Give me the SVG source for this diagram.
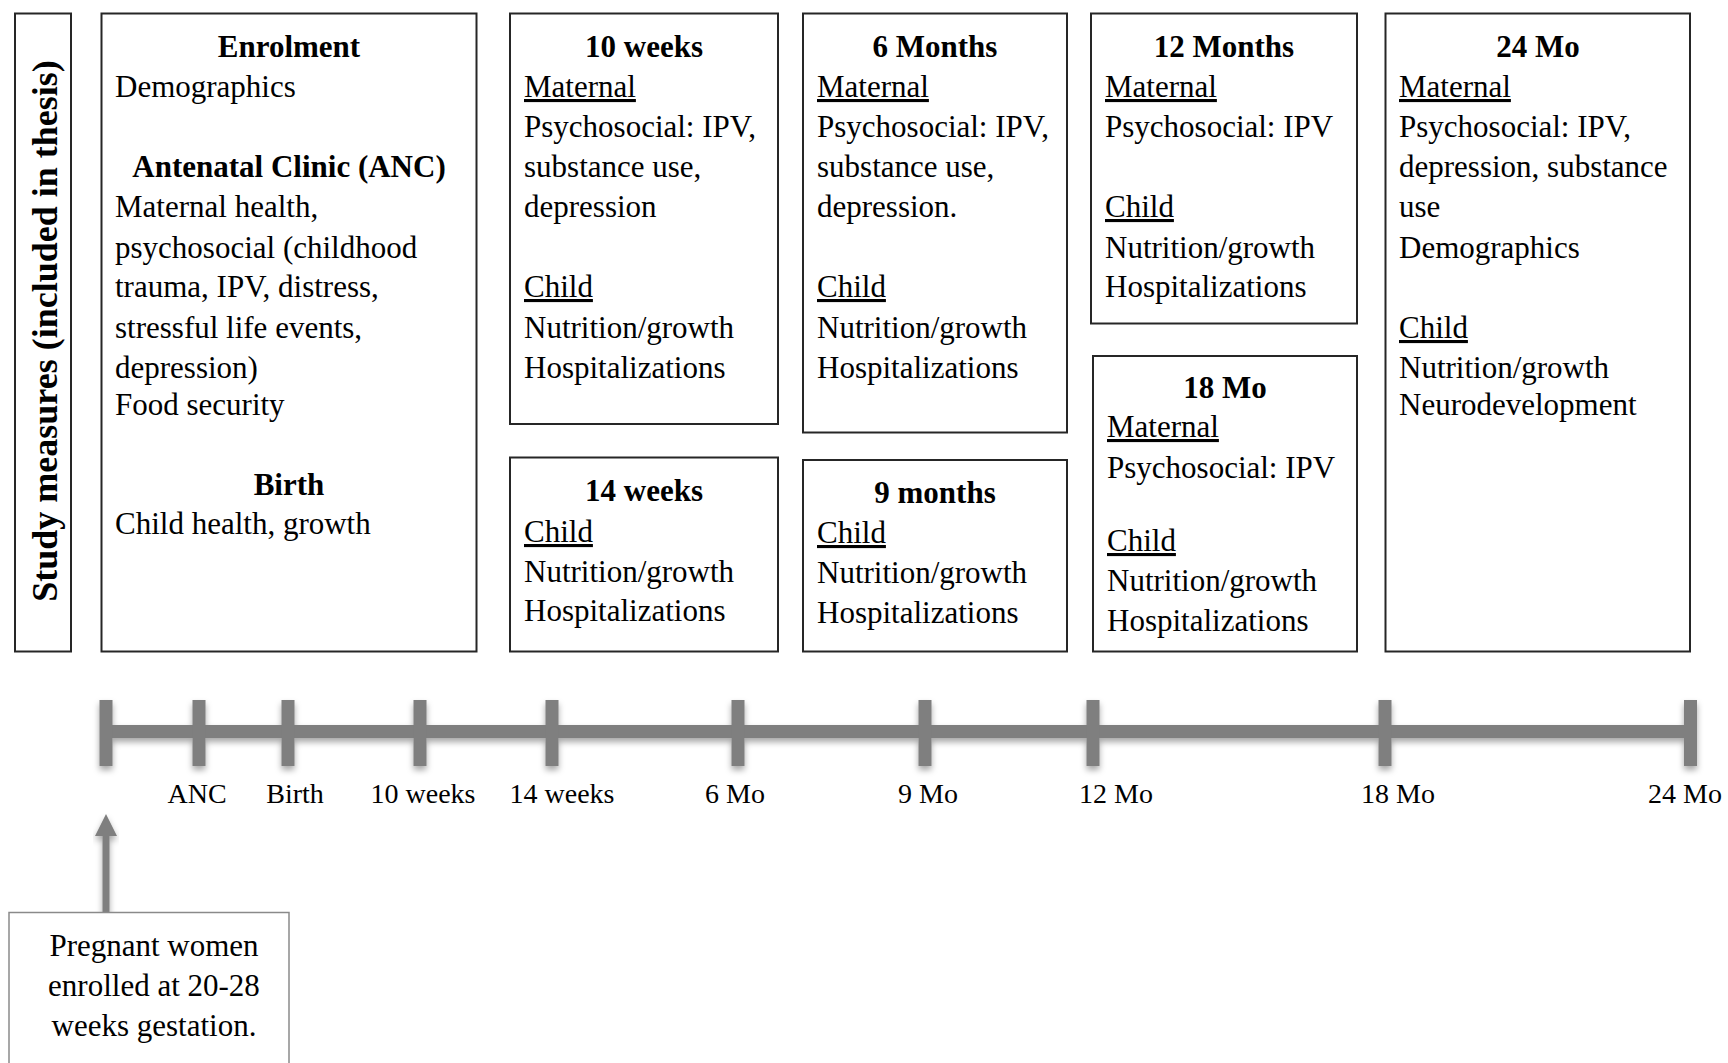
<svg xmlns="http://www.w3.org/2000/svg" width="1728" height="1063" viewBox="0 0 1728 1063">
  <style>
    .box{fill:#fff;stroke:#262626;stroke-width:2}
    .t{font-family:"Liberation Serif","Times New Roman",serif;font-size:31px;fill:#000}
    .h{font-weight:bold;text-anchor:middle}
    .u{text-decoration:underline;text-decoration-thickness:2.5px;text-underline-offset:3px}
    .tl{font-family:"Liberation Serif","Times New Roman",serif;font-size:28px;fill:#000;text-anchor:middle}
    .axis{fill:#7f7f7f}
  </style>
  <defs>
    <filter id="soft" x="-5%" y="-50%" width="110%" height="200%">
      <feDropShadow dx="0" dy="4" stdDeviation="3" flood-color="#000" flood-opacity="0.35"/>
    </filter>
  </defs>
  <rect width="1728" height="1063" fill="#fff"/>

  <!-- vertical side label -->
  <g id="side-label">
    <rect class="box" x="15" y="13.5" width="56" height="638"/>
    <text class="t" font-weight="bold" text-anchor="middle" transform="translate(57,331) rotate(-90)" style="font-size:36px">Study measures (included in thesis)</text>
  </g>

  <g id="enrolment">
    <rect class="box" x="101.5" y="13.5" width="375" height="638"/>
    <text class="t h" x="289" y="57">Enrolment</text>
    <text class="t" x="115" y="97">Demographics</text>
    <text class="t h" x="289" y="177">Antenatal Clinic (ANC)</text>
    <text class="t" x="115" y="217">Maternal health,</text>
    <text class="t" x="115" y="258">psychosocial (childhood</text>
    <text class="t" x="115" y="297">trauma, IPV, distress,</text>
    <text class="t" x="115" y="338">stressful life events,</text>
    <text class="t" x="115" y="378">depression)</text>
    <text class="t" x="115" y="415">Food security</text>
    <text class="t h" x="289" y="495">Birth</text>
    <text class="t" x="115" y="534">Child health, growth</text>
  </g>

  <g id="weeks10">
    <rect class="box" x="510" y="13.5" width="268" height="410.5"/>
    <text class="t h" x="644" y="57">10 weeks</text>
    <text class="t u" x="524" y="97">Maternal</text>
    <text class="t" x="524" y="137">Psychosocial: IPV,</text>
    <text class="t" x="524" y="177">substance use,</text>
    <text class="t" x="524" y="217">depression</text>
    <text class="t u" x="524" y="297">Child</text>
    <text class="t" x="524" y="338">Nutrition/growth</text>
    <text class="t" x="524" y="378">Hospitalizations</text>
  </g>

  <g id="weeks14">
    <rect class="box" x="510" y="457.5" width="268" height="194"/>
    <text class="t h" x="644" y="501">14 weeks</text>
    <text class="t u" x="524" y="542">Child</text>
    <text class="t" x="524" y="582">Nutrition/growth</text>
    <text class="t" x="524" y="621">Hospitalizations</text>
  </g>

  <g id="months6">
    <rect class="box" x="803" y="13.5" width="264" height="419"/>
    <text class="t h" x="935" y="57">6 Months</text>
    <text class="t u" x="817" y="97">Maternal</text>
    <text class="t" x="817" y="137">Psychosocial: IPV,</text>
    <text class="t" x="817" y="177">substance use,</text>
    <text class="t" x="817" y="217">depression.</text>
    <text class="t u" x="817" y="297">Child</text>
    <text class="t" x="817" y="338">Nutrition/growth</text>
    <text class="t" x="817" y="378">Hospitalizations</text>
  </g>

  <g id="months9">
    <rect class="box" x="803" y="460" width="264" height="191.5"/>
    <text class="t h" x="935" y="503">9 months</text>
    <text class="t u" x="817" y="543">Child</text>
    <text class="t" x="817" y="583">Nutrition/growth</text>
    <text class="t" x="817" y="623">Hospitalizations</text>
  </g>

  <g id="months12">
    <rect class="box" x="1091" y="13.5" width="266" height="310"/>
    <text class="t h" x="1224" y="57">12 Months</text>
    <text class="t u" x="1105" y="97">Maternal</text>
    <text class="t" x="1105" y="137">Psychosocial: IPV</text>
    <text class="t u" x="1105" y="217">Child</text>
    <text class="t" x="1105" y="258">Nutrition/growth</text>
    <text class="t" x="1105" y="297">Hospitalizations</text>
  </g>

  <g id="months18">
    <rect class="box" x="1093" y="356" width="264" height="295.5"/>
    <text class="t h" x="1225" y="398">18 Mo</text>
    <text class="t u" x="1107" y="437">Maternal</text>
    <text class="t" x="1107" y="478">Psychosocial: IPV</text>
    <text class="t u" x="1107" y="551">Child</text>
    <text class="t" x="1107" y="591">Nutrition/growth</text>
    <text class="t" x="1107" y="631">Hospitalizations</text>
  </g>

  <g id="months24">
    <rect class="box" x="1385.5" y="13.5" width="304.5" height="638"/>
    <text class="t h" x="1538" y="57">24 Mo</text>
    <text class="t u" x="1399" y="97">Maternal</text>
    <text class="t" x="1399" y="137">Psychosocial: IPV,</text>
    <text class="t" x="1399" y="177">depression, substance</text>
    <text class="t" x="1399" y="217">use</text>
    <text class="t" x="1399" y="258">Demographics</text>
    <text class="t u" x="1399" y="338">Child</text>
    <text class="t" x="1399" y="378">Nutrition/growth</text>
    <text class="t" x="1399" y="415">Neurodevelopment</text>
  </g>

  <!-- timeline axis with tick marks -->
  <g id="timeline" filter="url(#soft)">
    <rect class="axis" x="106" y="725" width="1584" height="13"/>
    <rect class="axis" x="99.5" y="700" width="13" height="66"/>
    <rect class="axis" x="192.5" y="700" width="13" height="66"/>
    <rect class="axis" x="281.5" y="700" width="13" height="66"/>
    <rect class="axis" x="413.5" y="700" width="13" height="66"/>
    <rect class="axis" x="545.5" y="700" width="13" height="66"/>
    <rect class="axis" x="731.5" y="700" width="13" height="66"/>
    <rect class="axis" x="918.5" y="700" width="13" height="66"/>
    <rect class="axis" x="1086.5" y="700" width="13" height="66"/>
    <rect class="axis" x="1378.5" y="700" width="13" height="66"/>
    <rect class="axis" x="1684" y="700" width="13" height="66"/>
  </g>

  <g id="timeline-labels">
    <text class="tl" x="197" y="803">ANC</text>
    <text class="tl" x="295" y="803">Birth</text>
    <text class="tl" x="423" y="803">10 weeks</text>
    <text class="tl" x="562" y="803">14 weeks</text>
    <text class="tl" x="735" y="803">6 Mo</text>
    <text class="tl" x="928" y="803">9 Mo</text>
    <text class="tl" x="1116" y="803">12 Mo</text>
    <text class="tl" x="1398" y="803">18 Mo</text>
    <text class="tl" x="1685" y="803">24 Mo</text>
  </g>

  <!-- enrolment arrow pointing up to the start of the axis -->
  <g id="connectors" filter="url(#soft)">
    <rect class="axis" x="102.5" y="834" width="7" height="79"/>
    <polygon class="axis" points="95,836 117,836 106,814"/>
  </g>

  <g id="enrolled-note">
    <rect x="9" y="912.5" width="280" height="170" fill="#fff" stroke="#8a8a8a" stroke-width="1.5"/>
    <text class="t" x="154" y="956" text-anchor="middle">Pregnant women</text>
    <text class="t" x="154" y="996" text-anchor="middle">enrolled at 20-28</text>
    <text class="t" x="154" y="1036" text-anchor="middle">weeks gestation.</text>
  </g>
</svg>
